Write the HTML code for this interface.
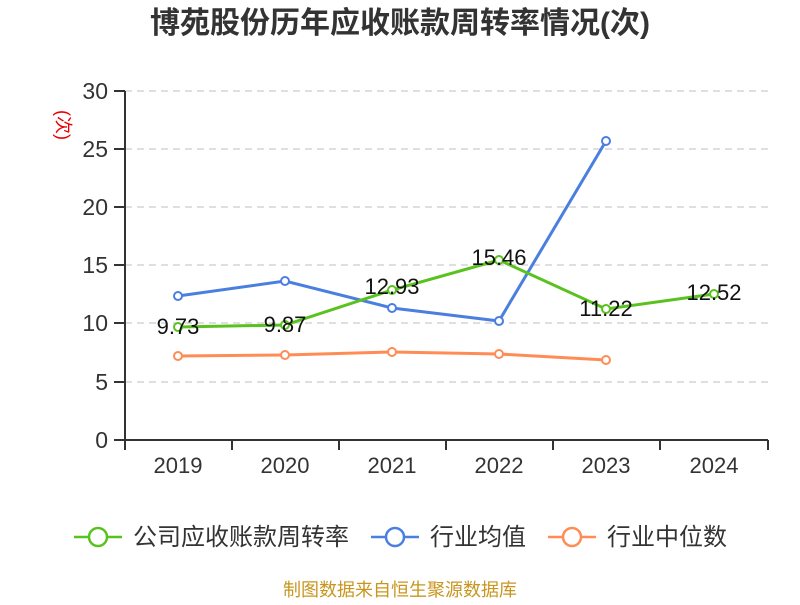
<!DOCTYPE html>
<html><head><meta charset="utf-8"><style>
body{margin:0;background:#fff;}
svg text{font-family:"Liberation Sans","Noto Sans CJK SC",sans-serif;}
</style></head><body>
<svg width="800" height="600" viewBox="0 0 800 600" xmlns="http://www.w3.org/2000/svg">
<rect width="800" height="600" fill="#fff"/>
<text x="400" y="33" text-anchor="middle" font-size="30" font-weight="bold" fill="#333">博苑股份历年应收账款周转率情况(次)</text>
<text transform="translate(57,125) rotate(90)" text-anchor="middle" font-size="18" fill="#e00">(次)</text>
<g stroke="#ccc" stroke-width="1.2" stroke-dasharray="7,5">
<line x1="125" x2="768" y1="91" y2="91"/><line x1="125" x2="768" y1="149" y2="149"/>
<line x1="125" x2="768" y1="207" y2="207"/><line x1="125" x2="768" y1="265" y2="265"/>
<line x1="125" x2="768" y1="323" y2="323"/><line x1="125" x2="768" y1="382" y2="382"/>
</g>
<g stroke="#333" stroke-width="2">
<line x1="125" y1="91" x2="125" y2="440"/>
<line x1="125" y1="440" x2="768" y2="440"/>
<line x1="114" x2="125" y1="91" y2="91"/><line x1="114" x2="125" y1="149" y2="149"/>
<line x1="114" x2="125" y1="207" y2="207"/><line x1="114" x2="125" y1="265" y2="265"/>
<line x1="114" x2="125" y1="323" y2="323"/><line x1="114" x2="125" y1="382" y2="382"/>
<line x1="114" x2="125" y1="440" y2="440"/>
<line x1="125" x2="125" y1="440" y2="450"/><line x1="232" x2="232" y1="440" y2="450"/>
<line x1="339" x2="339" y1="440" y2="450"/><line x1="446" x2="446" y1="440" y2="450"/>
<line x1="553" x2="553" y1="440" y2="450"/><line x1="660" x2="660" y1="440" y2="450"/>
<line x1="768" x2="768" y1="440" y2="450"/>
</g>
<g font-size="23" fill="#333" text-anchor="end">
<text x="108" y="99">30</text><text x="108" y="157">25</text><text x="108" y="215">20</text>
<text x="108" y="273">15</text><text x="108" y="331">10</text><text x="108" y="390">5</text><text x="108" y="448">0</text>
</g>
<g font-size="22" fill="#333" text-anchor="middle">
<text x="178" y="473">2019</text><text x="285" y="473">2020</text><text x="392" y="473">2021</text>
<text x="499" y="473">2022</text><text x="606" y="473">2023</text><text x="714" y="473">2024</text>
</g>
<polyline fill="none" stroke="#ff8c55" stroke-width="3" points="178,356 285,355 392,352 499,354 606,360"/>
<polyline fill="none" stroke="#4a7fe0" stroke-width="3" points="178,296 285,281 392,308 499,321 606,141"/>
<polyline fill="none" stroke="#5ac21e" stroke-width="3" points="178,327 285,325 392,290 499,260 606,309 714,294"/>
<g fill="#fff" stroke-width="2">
<g stroke="#ff8c55"><circle cx="178" cy="356" r="4"/><circle cx="285" cy="355" r="4"/><circle cx="392" cy="352" r="4"/><circle cx="499" cy="354" r="4"/><circle cx="606" cy="360" r="4"/></g>
<g stroke="#4a7fe0"><circle cx="178" cy="296" r="4"/><circle cx="285" cy="281" r="4"/><circle cx="392" cy="308" r="4"/><circle cx="499" cy="321" r="4"/><circle cx="606" cy="141" r="4"/></g>
<g stroke="#5ac21e"><circle cx="178" cy="327" r="4"/><circle cx="285" cy="325" r="4"/><circle cx="392" cy="290" r="4"/><circle cx="499" cy="260" r="4"/><circle cx="606" cy="309" r="4"/><circle cx="714" cy="294" r="4"/></g>
</g>
<g font-size="22" fill="#111" text-anchor="middle">
<text x="178" y="334">9.73</text><text x="285" y="332">9.87</text><text x="392" y="294">12.93</text>
<text x="499" y="265">15.46</text><text x="606" y="316">11.22</text><text x="714" y="300">12.52</text>
</g>
<g stroke-width="2.5" fill="#fff">
<line x1="74" x2="122" y1="537" y2="537" stroke="#5ac21e"/><circle cx="98" cy="537" r="9" stroke="#5ac21e"/>
<line x1="371" x2="419" y1="537" y2="537" stroke="#4a7fe0"/><circle cx="395" cy="537" r="9" stroke="#4a7fe0"/>
<line x1="548" x2="596" y1="537" y2="537" stroke="#ff8c55"/><circle cx="572" cy="537" r="9" stroke="#ff8c55"/>
</g>
<g font-size="24" fill="#333">
<text x="133" y="545">公司应收账款周转率</text>
<text x="430" y="545">行业均值</text>
<text x="607" y="545">行业中位数</text>
</g>
<text x="400" y="596" text-anchor="middle" font-size="18" fill="#c8961e">制图数据来自恒生聚源数据库</text>
</svg>
</body></html>
